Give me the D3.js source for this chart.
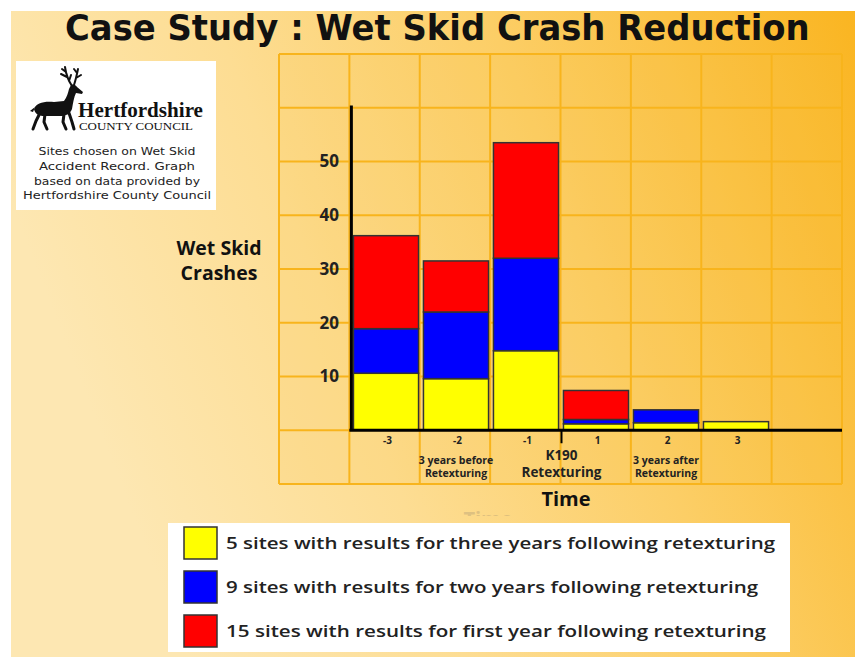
<!DOCTYPE html>
<html>
<head>
<meta charset="utf-8">
<script src="https://cdn.jsdelivr.net/npm/d3@7/dist/d3.min.js"></script>
<style>
  html, body { margin: 0; padding: 0; background: #ffffff; }
  svg { display: block; }
</style>
</head>
<body>
<svg id="chart" width="855" height="657"></svg>
<script>
// ---------------- DATA ----------------
const categories = ["-3", "-2", "-1", "1", "2", "3"];
const yellowValues = [10.6, 9.6, 14.8, 1.2, 1.4, 1.6];
const blueValues   = [8.3, 12.4, 17.2, 0.8, 2.4, 0];
const redValues    = [17.3, 9.5, 21.5, 5.4, 0, 0];
const seriesKeys   = ["yellow", "blue", "red"];
const seriesColors = ["#ffff00", "#0000ff", "#ff0000"];
const legendLabels = [
  "5 sites with results for three years following retexturing",
  "9 sites with results for two years following retexturing",
  "15 sites with results for first year following retexturing"
];
const yTickValues = [10, 20, 30, 40, 50];
const gridValues = [-10, 0, 10, 20, 30, 40, 50, 60, 70];
const title = "Case Study :  Wet Skid Crash Reduction";
const annotations = [
  { at: "-2", lines: ["3 years before", "Retexturing"], big: false },
  { at: "K190", lines: ["K190", "Retexturing"], big: true },
  { at: "2", lines: ["3 years after", "Retexturing"], big: false }
];
const logoNote = ["Sites chosen on Wet Skid", "Accident Record. Graph", "based on data provided by", "Hertfordshire County Council"];

// ---------------- SETUP ----------------
const svg = d3.select("#chart");
const defs = svg.append("defs");
const bg = defs.append("linearGradient").attr("id", "bg").attr("x1", "0").attr("y1", "0.3").attr("x2", "1").attr("y2", "0");
[["0", "#fde7b2"], ["0.3", "#fddd93"], ["0.6", "#fcce66"], ["1", "#fab521"]].forEach(s =>
  bg.append("stop").attr("offset", s[0]).attr("stop-color", s[1]));
defs.append("clipPath").attr("id", "ghostClip").append("rect")
  .attr("x", 400).attr("y", 490).attr("width", 200).attr("height", 26);

svg.append("rect").attr("x", 11).attr("y", 11).attr("width", 844).attr("height", 646).attr("fill", "url(#bg)");

// scales
const y = d3.scaleLinear().domain([-10, 70]).range([484, 54]);
const xs = d3.scaleLinear().domain([-1, 7]).range([279, 842]);
const x = d3.scaleBand().domain(categories).range([351, 771]).paddingInner(0.07).paddingOuter(0.035);

// panel tint
svg.append("rect").attr("x", xs(-1)).attr("y", y(70)).attr("width", xs(7) - xs(-1)).attr("height", y(-10) - y(70))
  .attr("fill", "#fbc443").attr("opacity", 0.15);

// grid
const grid = svg.append("g").attr("stroke", "#f8b41c").attr("stroke-width", 2);
grid.selectAll("line.h").data(gridValues).join("line")
  .attr("x1", xs(-1)).attr("x2", xs(7)).attr("y1", d => y(d)).attr("y2", d => y(d));
grid.selectAll("line.v").data(d3.range(-1, 8)).join("line")
  .attr("x1", d => xs(d)).attr("x2", d => xs(d)).attr("y1", y(70)).attr("y2", y(-10));

// title (scaled horizontally to the reference width)
const titleText = svg.append("text").attr("x", 0).attr("y", 40)
  .attr("font-family", "DejaVu Sans").attr("font-weight", "bold").attr("font-size", 36).attr("fill", "#111")
  .text(title);
const tw = titleText.node().getComputedTextLength();
titleText.attr("transform", `translate(65,0) scale(${745 / tw},1)`);

// ---------------- BARS ----------------
const rows = categories.map((c, i) => ({ cat: c, yellow: yellowValues[i], blue: blueValues[i], red: redValues[i] }));
const stacked = d3.stack().keys(seriesKeys)(rows);
const barG = svg.append("g");
stacked.forEach((layer, li) => {
  barG.selectAll(null).data(layer.filter(d => d[1] - d[0] > 0)).join("rect")
    .attr("x", d => x(d.data.cat))
    .attr("width", x.bandwidth())
    .attr("y", d => y(d[1]))
    .attr("height", d => y(d[0]) - y(d[1]))
    .attr("fill", seriesColors[li])
    .attr("stroke", "#333")
    .attr("stroke-width", 1.5);
});

// ---------------- AXES ----------------
const yAxisScale = y.copy().domain([0, 60.5]).range([y(0), y(60.5)]);
const yAxis = svg.append("g").attr("transform", `translate(${xs(0) + 1.5},0)`)
  .call(d3.axisLeft(yAxisScale).tickValues(yTickValues).tickSize(0).tickSizeOuter(0).tickPadding(12).tickFormat(d3.format("d")));
yAxis.select(".domain").attr("stroke", "#000").attr("stroke-width", 3);
yAxis.selectAll("text").attr("font-family", "Open Sans").attr("font-weight", 700).attr("font-size", 17).attr("fill", "#222");

// x axis line
svg.append("line").attr("x1", xs(0)).attr("x2", xs(7)).attr("y1", y(0)).attr("y2", y(0))
  .attr("stroke", "#000").attr("stroke-width", 3);
const xAxis = svg.append("g").attr("transform", `translate(1.5,${y(0)})`)
  .call(d3.axisBottom(x).tickSize(0).tickPadding(7));
xAxis.select(".domain").remove();
xAxis.selectAll("text").attr("font-family", "Open Sans").attr("font-weight", 700).attr("font-size", 10).attr("fill", "#222");

// retexturing marker
svg.append("line").attr("x1", xs(3) + 1).attr("x2", xs(3) + 1).attr("y1", y(0)).attr("y2", y(0) + 13)
  .attr("stroke", "#000").attr("stroke-width", 2);

// annotations
annotations.forEach(a => {
  const cx = a.at === "K190" ? xs(3) + 1 : x(a.at) + x.bandwidth() / 2;
  a.lines.forEach((ln, i) => {
    svg.append("text").attr("x", cx).attr("y", a.big ? 460 + i * 17 : 464 + i * 13)
      .attr("text-anchor", "middle").attr("font-family", "Open Sans").attr("font-weight", 700)
      .attr("font-size", a.big ? 13.5 : 10.5).attr("fill", "#222").text(ln);
  });
});

// axis titles
svg.append("text").attr("x", 219).attr("y", 255).attr("text-anchor", "middle")
  .attr("font-family", "Open Sans").attr("font-weight", 700).attr("font-size", 19.5).attr("fill", "#111").text("Wet Skid");
svg.append("text").attr("x", 219).attr("y", 280).attr("text-anchor", "middle")
  .attr("font-family", "Open Sans").attr("font-weight", 700).attr("font-size", 19.5).attr("fill", "#111").text("Crashes");
// faint ghost title, mostly hidden behind the legend
svg.append("text").attr("x", 488).attr("y", 526).attr("text-anchor", "middle").attr("clip-path", "url(#ghostClip)")
  .attr("font-family", "Open Sans").attr("font-weight", 700).attr("font-size", 20).attr("fill", "#9a8a70").attr("opacity", 0.3).text("Time");
svg.append("text").attr("x", 566).attr("y", 506).attr("text-anchor", "middle")
  .attr("font-family", "Open Sans").attr("font-weight", 700).attr("font-size", 20).attr("fill", "#111").text("Time");

// ---------------- LEGEND ----------------
svg.append("rect").attr("x", 168).attr("y", 523).attr("width", 622).attr("height", 129).attr("fill", "#fff");
const legendWidths = [549, 532, 540];
const lg = svg.append("g").selectAll("g").data(legendLabels).join("g")
  .attr("transform", (d, i) => `translate(184,${527 + i * 44})`);
lg.append("rect").attr("width", 33).attr("height", 32).attr("fill", (d, i) => seriesColors[i])
  .attr("stroke", "#333").attr("stroke-width", 1.5);
lg.append("text").attr("x", 42).attr("y", 22).attr("textLength", (d, i) => legendWidths[i]).attr("lengthAdjust", "spacingAndGlyphs")
  .attr("font-family", "Open Sans").attr("font-weight", 600).attr("font-size", 17).attr("fill", "#222").text(d => d);

// ---------------- LOGO BOX ----------------
svg.append("rect").attr("x", 16).attr("y", 61).attr("width", 200).attr("height", 149).attr("fill", "#fff");
const deer = svg.append("g").attr("transform", "translate(30,67)");
deer.append("path").attr("fill", "#111")
  .attr("d", "M4,42 C6,36 14,34 24,35 L34,34 C37,30 38,26 39,22 L41,18 C43,17 46,18 47,20 L53,25 L52,27 L46,26 C44,30 43,36 42,42 C40,47 36,49 30,49 L14,49 C9,49 5,47 4,42 Z M5,40 L0,44 L3,45 Z");
deer.append("path").attr("fill", "none").attr("stroke", "#111").attr("stroke-width", 3).attr("stroke-linecap", "round").attr("stroke-linejoin", "round")
  .attr("d", "M39,46 L42,55 L44,62 M34,47 L33,55 L36,62 M10,46 L6,54 L3,62 M15,47 L14,55 L17,62");
deer.append("path").attr("fill", "none").attr("stroke", "#111").attr("stroke-width", 2).attr("stroke-linecap", "round")
  .attr("d", "M42,19 C38,13 36,7 35,0 M37,10 L31,7 M36,5 L32,2 M39,14 L41,8 M44,18 C46,12 47,7 48,2 M46,11 L51,8 M47,6 L44,2");
svg.append("text").attr("x", 78).attr("y", 117).attr("textLength", 125).attr("lengthAdjust", "spacingAndGlyphs")
  .attr("font-family", "Liberation Serif").attr("font-weight", "bold").attr("font-size", 20).attr("fill", "#111").text("Hertfordshire");
svg.append("text").attr("x", 79).attr("y", 130).attr("textLength", 114).attr("lengthAdjust", "spacingAndGlyphs")
  .attr("font-family", "Liberation Serif").attr("font-size", 10).attr("fill", "#111").text("COUNTY COUNCIL");
const noteWidths = [157, 156, 166, 188];
logoNote.forEach((ln, i) => {
  svg.append("text").attr("x", 117).attr("y", 155 + i * 14.8).attr("text-anchor", "middle")
    .attr("textLength", noteWidths[i]).attr("lengthAdjust", "spacingAndGlyphs")
    .attr("font-family", "DejaVu Sans").attr("font-size", 11.3).attr("fill", "#222").text(ln);
});
</script>
</body>
</html>
